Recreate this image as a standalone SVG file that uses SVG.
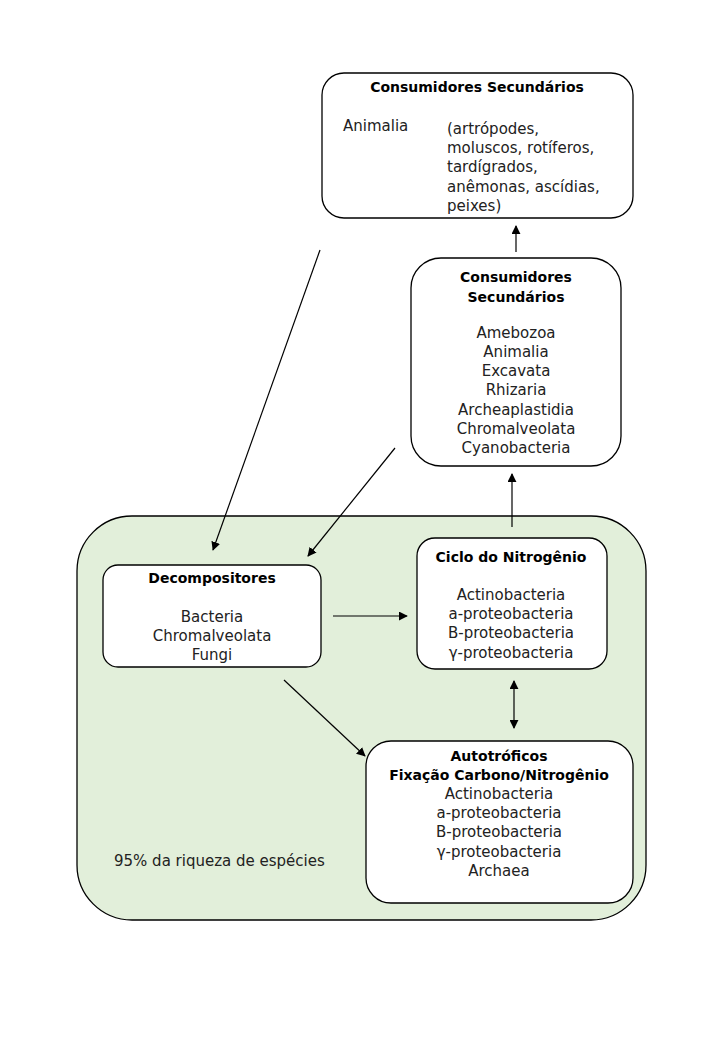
<svg xmlns="http://www.w3.org/2000/svg" width="720" height="1040" viewBox="0 0 720 1040">
<defs>
<style>
.box{fill:#fff;stroke:#000;stroke-width:1.3}
.bg{fill:#e2efda;stroke:#000;stroke-width:1.3}
text{font-family:"DejaVu Sans","Liberation Sans",sans-serif;font-size:15px;fill:#222}
.t{font-weight:bold;font-size:14px;fill:#000}
.c{text-anchor:middle}
.con line{stroke:#000;stroke-width:1.2}
</style>
<marker id="ah" viewBox="0 0 10 10" refX="9" refY="5" markerWidth="9" markerHeight="9" markerUnits="userSpaceOnUse" orient="auto-start-reverse">
<path d="M0,0 L10,5 L0,10 z" fill="#000"/>
</marker>
</defs>
<rect width="720" height="1040" fill="#fff"/>
<g id="zone">
<rect class="bg" x="77" y="516" width="569" height="404" rx="55"/>
<text x="114" y="866">95% da riqueza de espécies</text>
</g>
<g id="consumidores-top">
<rect class="box" x="322" y="73" width="311" height="145" rx="22"/>
<text class="t c" x="477" y="92">Consumidores Secundários</text>
<text x="343" y="131">Animalia</text>
<text x="447" y="134">(artrópodes,</text>
<text x="447" y="153">moluscos, rotíferos,</text>
<text x="447" y="172">tardígrados,</text>
<text x="447" y="192">anêmonas, ascídias,</text>
<text x="447" y="211">peixes)</text>
</g>
<g id="consumidores-mid">
<rect class="box" x="411" y="258" width="210" height="208" rx="30"/>
<text class="t c" x="516" y="282">Consumidores</text>
<text class="t c" x="516" y="302">Secundários</text>
<text class="c" x="516" y="338">Amebozoa</text>
<text class="c" x="516" y="357">Animalia</text>
<text class="c" x="516" y="376">Excavata</text>
<text class="c" x="516" y="395">Rhizaria</text>
<text class="c" x="516" y="415">Archeaplastidia</text>
<text class="c" x="516" y="434">Chromalveolata</text>
<text class="c" x="516" y="453">Cyanobacteria</text>
</g>
<g id="decompositores">
<rect class="box" x="103" y="565" width="218" height="102" rx="15"/>
<text class="t c" x="212" y="583">Decompositores</text>
<text class="c" x="212" y="622">Bacteria</text>
<text class="c" x="212" y="641">Chromalveolata</text>
<text class="c" x="212" y="660">Fungi</text>
</g>
<g id="ciclo">
<rect class="box" x="417" y="538" width="190" height="131" rx="18"/>
<text class="t c" x="511" y="562">Ciclo do Nitrogênio</text>
<text class="c" x="511" y="600">Actinobacteria</text>
<text class="c" x="511" y="619">a-proteobacteria</text>
<text class="c" x="511" y="638">B-proteobacteria</text>
<text class="c" x="511" y="658">γ-proteobacteria</text>
</g>
<g id="autotroficos">
<rect class="box" x="366" y="741" width="267" height="162" rx="25"/>
<text class="t c" x="499" y="761">Autotróficos</text>
<text class="t c" x="499" y="780">Fixação Carbono/Nitrogênio</text>
<text class="c" x="499" y="799">Actinobacteria</text>
<text class="c" x="499" y="818">a-proteobacteria</text>
<text class="c" x="499" y="837">B-proteobacteria</text>
<text class="c" x="499" y="857">γ-proteobacteria</text>
<text class="c" x="499" y="876">Archaea</text>
</g>
<g id="connectors" class="con">
<line x1="516" y1="252" x2="516" y2="226" marker-end="url(#ah)"/>
<line x1="512" y1="527" x2="512" y2="474" marker-end="url(#ah)"/>
<line x1="514" y1="681" x2="514" y2="728" marker-start="url(#ah)" marker-end="url(#ah)"/>
<line x1="320" y1="250" x2="213" y2="550" marker-end="url(#ah)"/>
<line x1="395" y1="448" x2="308" y2="556" marker-end="url(#ah)"/>
<line x1="333" y1="616" x2="407" y2="616" marker-end="url(#ah)"/>
<line x1="284" y1="680" x2="365" y2="756" marker-end="url(#ah)"/>
</g>
</svg>
